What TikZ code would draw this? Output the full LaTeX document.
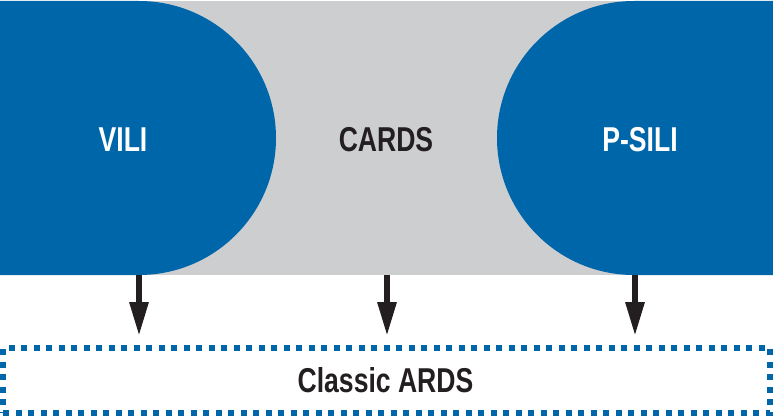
\documentclass[tikz,border=0pt]{standalone}
\usepackage{fontspec}
\newfontfamily\labelfont[FakeStretch=0.77]{Liberation Sans}
\usetikzlibrary{arrows.meta}
\definecolor{ardsblue}{RGB}{0,102,170}
\definecolor{ardsgrey}{RGB}{205,206,208}
\definecolor{ardsdark}{RGB}{35,31,32}
\tikzset{
	lbl/.style={font=\labelfont\bfseries\fontsize{34.5}{36}\selectfont, inner sep=0pt},
	downarrow/.style={draw=ardsdark, line width=6pt, -{Triangle[length=34pt,width=18pt]}, shorten >=9pt},
}
\begin{document}
\begin{tikzpicture}[x=1pt,y=1pt]
				\useasboundingbox (0,0) rectangle (773,416);
				\def\rad{137}
				\coordinate (top) at (0,415);
				\coordinate (bot) at (0,141);
				
				% grey band
				\fill[ardsgrey] (bot) rectangle (773,415);
				% the two blue half-discs
				\fill[ardsblue] (top) -- (139,415) arc[start angle=90,end angle=-90,radius=\rad] -- (bot) -- cycle;
				\fill[ardsblue] (773,415) -- (634,415) arc[start angle=90,end angle=270,radius=\rad] -- (773,141) -- cycle;
				
				\node[lbl, text=white] (vili) at (123,276) {VILI};
				\node[lbl, text=ardsdark] (cards) at (386,276) {CARDS};
				\node[lbl, text=white] (psili) at (640,276) {P-SILI};
				
				% dotted box
				\node[draw=ardsblue, line width=6pt, dash pattern=on 6pt off 6.5pt,
					minimum width=767pt, minimum height=65pt, inner sep=0pt] (ards) at (386.5,35.5) {};
				\node[lbl, text=ardsdark] (classic) at (385.5,36) {Classic ARDS};
				
				\coordinate (vilibot) at (139,141);
				\coordinate (cardsbot) at (387,141);
				\coordinate (psilibot) at (635,141);
				\draw[downarrow] (vilibot) -- (vilibot |- ards.north);
				\draw[downarrow] (cardsbot) -- (cardsbot |- ards.north);
				\draw[downarrow] (psilibot) -- (psilibot |- ards.north);
			\end{tikzpicture}
\end{document}
